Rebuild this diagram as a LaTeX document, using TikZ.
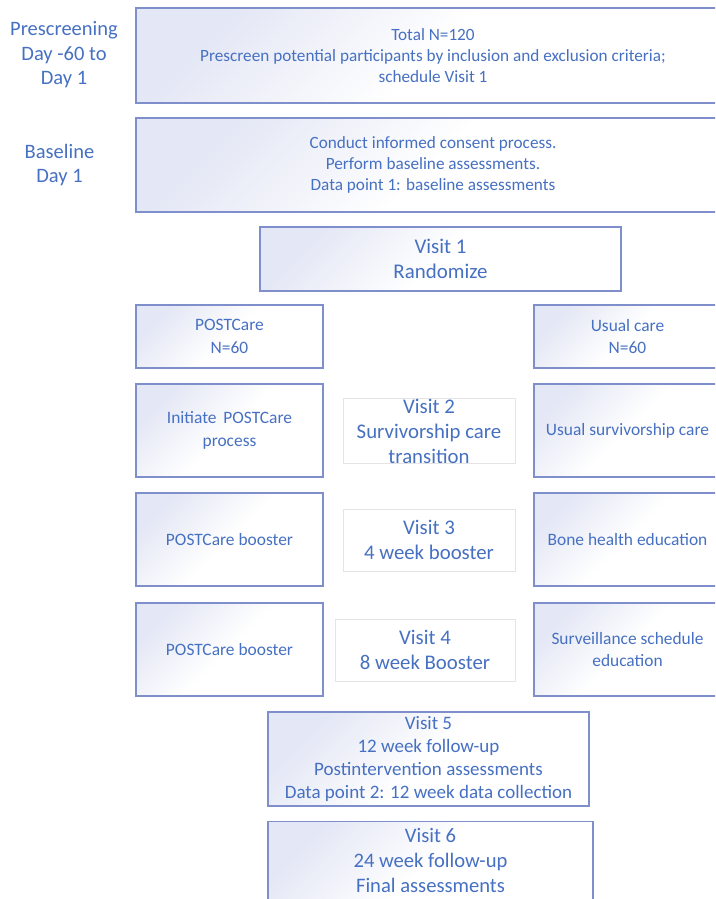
\documentclass[tikz,border=0pt]{standalone}
\usepackage{fontspec}
\setmainfont{Carlito}
\definecolor{txt}{HTML}{4670C2}
\definecolor{bord}{HTML}{7E8FCB}
\definecolor{lav}{HTML}{E4E7F5}
\definecolor{faint}{HTML}{E4E4E4}
\begin{document}
\begin{tikzpicture}[x=1pt,y=-1pt,
  box/.style={draw=bord, line width=1.3pt, top color=lav, bottom color=white, middle color=white, shading angle=45,
    inner sep=0pt, align=center, text=txt, anchor=center},
  vbox/.style={draw=faint, line width=1pt, fill=white, inner sep=0pt, align=center, text=txt, anchor=center,
    font=\fontsize{20.8}{25}\selectfont},
  lbl/.style={align=center, text=txt, inner sep=0pt, font=\fontsize{20.5}{24.5}\selectfont},
  big/.style={font=\fontsize{17.2}{21}\selectfont},
  side/.style={font=\fontsize{17.4}{22.5}\selectfont, minimum width=187pt, minimum height=93pt},
  vis/.style={font=\fontsize{20.9}{25}\selectfont}
]
\useasboundingbox (0,0) rectangle (715,899);
\begin{scope}
\clip (0,0) rectangle (715,899);
% left labels
\node[lbl] (lpre) at (64,55) {Prescreening\\Day -60 to\\Day 1};
\node[lbl] (lbase) at (59.5,165) {Baseline\\Day 1};
% top boxes
\node[box, big, minimum width=594pt, minimum height=95pt] (pre) at (433,55.5)
  {Total N=120\\Prescreen potential participants by inclusion and exclusion criteria;\\schedule Visit 1};
\node[box, big, minimum width=594pt, minimum height=94pt] (base) at (433,165)
  {Conduct informed consent process.\\Perform baseline assessments.\\Data point 1: baseline assessments};
% visit 1
\node[box, vis, minimum width=361pt, minimum height=64pt] (v1) at (440.5,259) {Visit 1\\Randomize};
% arms
\node[box, side, minimum height=63pt] (pc) at (229.5,336.5) {POSTCare\\N=60};
\node[box, side, minimum height=63pt] (uc) at (627.5,336.5) {Usual care\\N=60};
\node[box, side] (pc2) at (229.5,430.5) {Initiate\, POSTCare\\process};
\node[box, side] (uc2) at (627.5,430.5) {Usual survivorship care};
\node[box, side] (pc3) at (229.5,539.5) {POSTCare booster};
\node[box, side] (uc3) at (627.5,539.5) {Bone health education};
\node[box, side] (pc4) at (229.5,649.5) {POSTCare booster};
\node[box, side] (uc4) at (627.5,649.5) {Surveillance schedule\\education};
% middle visits
\node[vbox, minimum width=172pt, minimum height=62pt] (v2) at (429,431) {Visit 2\\Survivorship care\\transition};
\node[vbox, minimum width=172pt, minimum height=62pt] (v3) at (429,540) {Visit 3\\4 week booster};
\node[vbox, minimum width=180pt, minimum height=62pt] (v4) at (425,650) {Visit 4\\8 week Booster};
% visit 5 and 6
\node[box, font=\fontsize{19}{22.8}\selectfont, minimum width=321pt, minimum height=94pt] (v5) at (428.5,759)
  {Visit 5\\12 week follow-up\\Postintervention assessments\\Data point 2: 12 week data collection};
\node[box, font=\fontsize{20.6}{25}\selectfont, minimum width=325pt, minimum height=78pt] (v6) at (430.5,860.5)
  {Visit 6\\24 week follow-up\\Final assessments};
\end{scope}
\end{tikzpicture}
\end{document}
